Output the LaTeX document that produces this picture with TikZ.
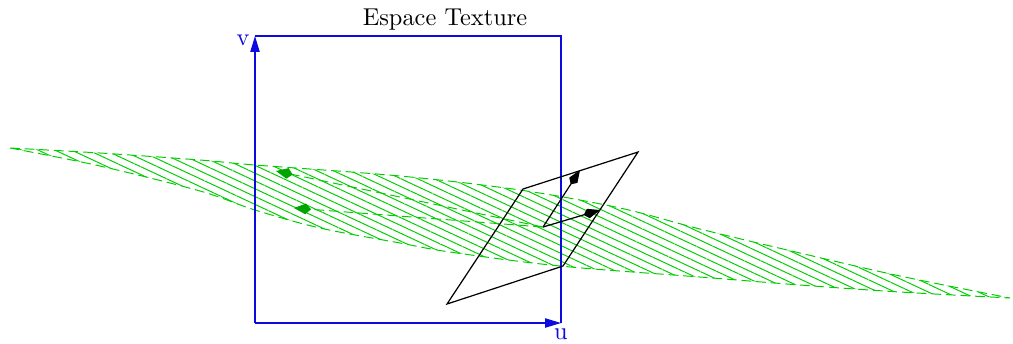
\documentclass[tikz,border=0pt]{standalone}
\usetikzlibrary{arrows.meta,patterns.meta}
\definecolor{axblue}{RGB}{10,10,225}
\definecolor{hgreen}{RGB}{0,205,0}
\definecolor{agreen}{RGB}{0,165,0}
\begin{document}
\begin{tikzpicture}[x=0.41pt,y=-0.41pt,
  axis/.style={draw=axblue, line width=0.45pt},
  axarrow/.style={axis, -{Triangle[length=6.5pt,width=3.8pt,color=axblue]}},
  lens/.style={hgreen, line width=0.4pt, dash pattern=on 4pt off 2pt,
    pattern={Lines[angle=-25,distance=2.9pt,line width=0.4pt]}, pattern color=hgreen},
  garrow/.style={hgreen, line width=0.4pt, dash pattern=on 4pt off 2pt,
    -{Kite[length=7pt,width=4.4pt,inset=2.2pt,fill=agreen,color=agreen,sep=0pt]}},
  barrow/.style={black, line width=0.5pt, -{Kite[length=7pt,width=4pt,inset=2pt]}},
  para/.style={black, line width=0.5pt},
  lab/.style={text=axblue, inner sep=0pt}]
\useasboundingbox (0,0) rectangle (1013,343);

% texture-space footprint
\draw[lens] plot[smooth, tension=0.55] coordinates {(10,148) (100,153) (200,160) (255,165) (400,176) (520,190) (620,208) (700,229) (800,253) (900,276) (1010,298)}
  -- plot[smooth, tension=0.55] coordinates {(1010,298) (900,292) (800,285) (700,277) (560,266) (450,252) (400,243) (320,228) (255,210) (200,191) (100,166) (10,148)} -- cycle;

% texture box and axes
\coordinate (O) at (255,323);
\coordinate (V) at (255,36);
\coordinate (U) at (561,323);
\coordinate (C) at (561,36);
\draw[axis] (V) -- (C) -- (U);
\draw[axarrow] (O) -- (V);
\draw[axarrow] (O) -- (U);
\node[lab, anchor=east] (vl) at (250,40) {v};
\node[lab, anchor=north] (ul) at (561,328) {u};
\node[inner sep=0pt] (title) at (445,20) {Espace Texture};

% pixel parallelogram
\coordinate (P1) at (447,304);
\coordinate (P2) at (563,266);
\coordinate (P3) at (638,152);
\coordinate (P4) at (523,189);
\draw[para] (P1) -- (P2) -- (P3) -- (P4) -- cycle;

% derivative vectors
\coordinate (M) at (543,227);
\coordinate (A1) at (580,170);
\coordinate (A2) at (600,210);
\draw[barrow] (M) -- (A1);
\draw[barrow] (M) -- (A2);

% projected vectors in texture space
\coordinate (G1) at (276,171);
\coordinate (G2) at (294,208);
\draw[garrow] (M) -- (G1);
\draw[garrow] (M) -- (G2);
\end{tikzpicture}
\end{document}
